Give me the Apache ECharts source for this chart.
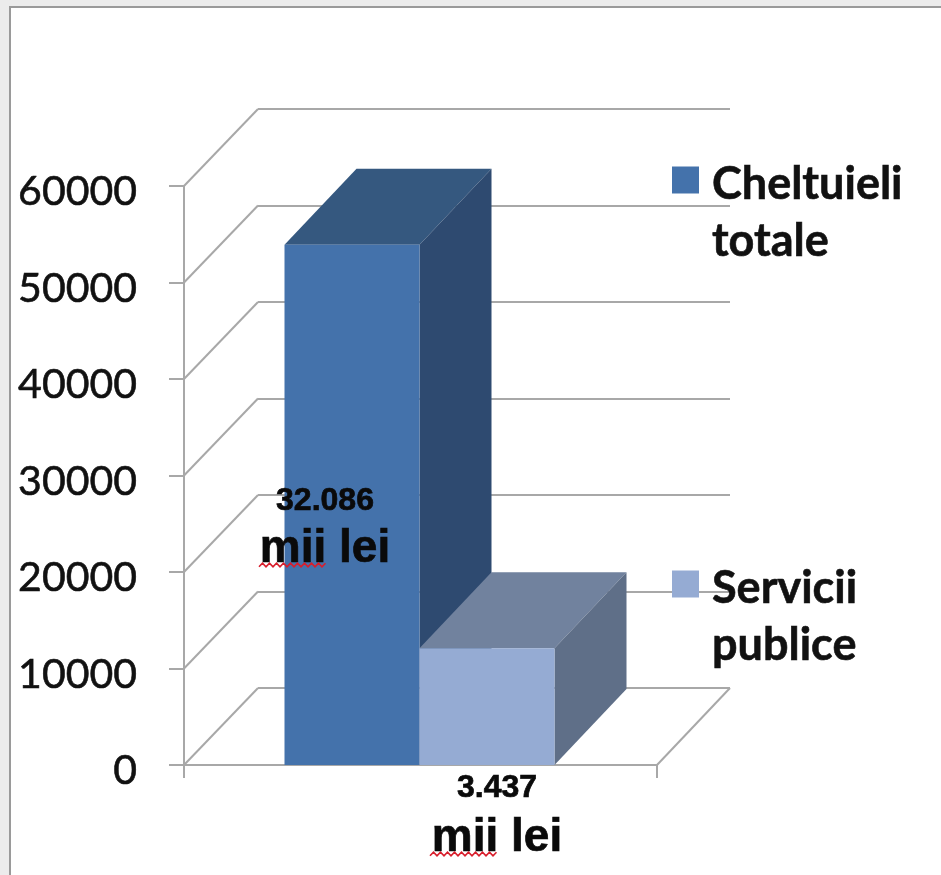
<!DOCTYPE html>
<html>
<head>
<meta charset="utf-8">
<style>html,body{margin:0;padding:0;background:#fff}#c{width:941px;height:875px}</style>
<script src="https://cdn.jsdelivr.net/npm/echarts@6/dist/echarts.min.js"></script>
</head>
<body>
<div id="c"></div>
<script>
const categories = ['Cheltuieli și servicii'];
const seriesNames = ['Cheltuieli totale', 'Servicii publice'];
const cheltuieliTotale = [53900];
const serviciiPublice = [12100];
const yTicks = [0, 10000, 20000, 30000, 40000, 50000, 60000];
const valueLabels = ['32.086', '3.437'];
const unitLabel = 'mii lei';

const DX = 72, DY = -76, WX = 74, WY = -77, BAR = 135;
const GRID = '#a8a8a8';

function poly(points, fill) {
  return { type: 'polygon', shape: { points }, style: { fill, stroke: null } };
}
function bar3d(sign, front, top, side) {
  return function (params, api) {
    const base = api.coord([api.value(0), 0]);
    const tip = api.coord([api.value(0), api.value(1)]);
    const x0 = sign < 0 ? base[0] - BAR - 1 : base[0] - 1;
    const x1 = x0 + BAR, y0 = base[1], y1 = tip[1];
    return { type: 'group', children: [
      poly([[x0, y1], [x1, y1], [x1 + DX, y1 + DY], [x0 + DX, y1 + DY]], top),
      poly([[x1, y0], [x1, y1], [x1 + DX, y1 + DY], [x1 + DX, y0 + DY]], side),
      poly([[x0, y0], [x1, y0], [x1, y1], [x0, y1]], front)
    ] };
  };
}
function wave(x0, x1, y) {
  const pts = [];
  for (let i = 0; x0 + i * 3.5 <= x1; i++) pts.push([x0 + i * 3.5, y + (i % 2 ? -1.8 : 1.8)]);
  return { type: 'polyline', z: 101, shape: { points: pts }, style: { stroke: '#d81e2c', lineWidth: 1.6, fill: null } };
}
function label(text, cx, cy, size) {
  return { type: 'text', z: 100, x: cx, y: cy, style: { text, fill: '#0a0a0a', align: 'center', verticalAlign: 'middle',
    stroke: '#0a0a0a', lineWidth: 0.7, font: 'bold ' + size + 'px "Liberation Sans"' } };
}

const legendLine = { fontFamily: 'Lato', fontWeight: 'bold', fontSize: 45, lineHeight: 57, color: '#111',
  textBorderColor: '#111', textBorderWidth: 0.6, padding: [0, 0, 0, 8] };
const legendBase = { orient: 'vertical', padding: 0, itemWidth: 27, itemHeight: 27, itemGap: 0, icon: 'rect', left: 672,
  formatter: n => '{s| }\n' + n.split(' ').map(w => '{a|' + w + '}').join('\n'),
  textStyle: { rich: { s: { fontSize: 10, lineHeight: 65 }, a: legendLine } } };

const option = {
  animation: false,
  backgroundColor: '#ececec',
  grid: [
    { left: 184, right: 284, top: 186, bottom: 110 },
    { left: 258, right: 211, top: 109, bottom: 187 }
  ],
  xAxis: [
    { type: 'category', gridIndex: 0, data: categories,
      axisLine: { lineStyle: { color: GRID, width: 2 } },
      axisTick: { show: true, length: 13, alignWithLabel: false, lineStyle: { color: GRID, width: 2 } },
      axisLabel: { show: false } },
    { type: 'category', gridIndex: 1, data: categories, show: false }
  ],
  yAxis: [
    { type: 'value', gridIndex: 0, min: 0, max: 60000, interval: 10000,
      axisLine: { show: true, lineStyle: { color: GRID, width: 2 } },
      axisTick: { show: true, length: 15, lineStyle: { color: GRID, width: 2 } },
      axisLabel: { margin: 47, fontFamily: 'Lato', fontSize: 41, color: '#111', verticalAlign: 'top', lineHeight: 12,
        textBorderColor: '#111', textBorderWidth: 0.6, formatter: v => String(v) },
      splitLine: { show: false } },
    { type: 'value', gridIndex: 1, min: 0, max: 60000, interval: 10000,
      axisLine: { show: false }, axisTick: { show: false }, axisLabel: { show: false },
      splitLine: { show: true, lineStyle: { color: GRID, width: 2 } } }
  ],
  legend: [
    Object.assign({}, legendBase, { top: 118, data: [seriesNames[0]] }),
    Object.assign({}, legendBase, { top: 522, data: [seriesNames[1]] })
  ],
  graphic: [
    { type: 'rect', z: -1, silent: true, shape: { x: 10, y: 7, width: 940, height: 880 },
      style: { fill: '#fff', stroke: '#9a9a9a', lineWidth: 2 } },
    label(valueLabels[0], 325, 501, 32),
    label(unitLabel, 325, 549, 46),
    wave(259, 328, 565),
    label(valueLabels[1], 497, 788, 32),
    label(unitLabel, 497, 838, 46),
    wave(430, 499, 854)
  ],
  series: [
    { type: 'custom', name: 'wall', silent: true, xAxisIndex: 0, yAxisIndex: 0, clip: false, z: 1,
      data: yTicks.map(t => [0, t]),
      renderItem(params, api) {
        const p = api.coord([0, api.value(1)]);
        const halfBand = api.size([1, 0])[0] / 2;
        const left = [p[0] - halfBand, p[1]];
        const kids = [{ type: 'line', shape: { x1: left[0], y1: left[1], x2: left[0] + WX, y2: left[1] + WY },
          style: { stroke: GRID, lineWidth: 2 } }];
        if (api.value(1) === 0) {
          const right = [p[0] + halfBand, p[1]];
          kids.push({ type: 'line', shape: { x1: right[0], y1: right[1], x2: right[0] + WX - 1, y2: right[1] + WY },
            style: { stroke: GRID, lineWidth: 2 } });
        }
        return { type: 'group', children: kids };
      } },
    { type: 'custom', name: seriesNames[0], xAxisIndex: 0, yAxisIndex: 0, clip: false, z: 3,
      itemStyle: { color: '#4472ab' },
      data: cheltuieliTotale.map((v, i) => [i, v]),
      renderItem: bar3d(-1, '#4472ab', '#35587f', '#2e4a70') },
    { type: 'custom', name: seriesNames[1], xAxisIndex: 0, yAxisIndex: 0, clip: false, z: 4,
      itemStyle: { color: '#95abd3' },
      data: serviciiPublice.map((v, i) => [i, v]),
      renderItem: bar3d(1, '#95abd3', '#71829e', '#5f6f88') }
  ]
};
echarts.init(document.getElementById('c'), null, { renderer: 'canvas' }).setOption(option);
</script>
</body>
</html>
